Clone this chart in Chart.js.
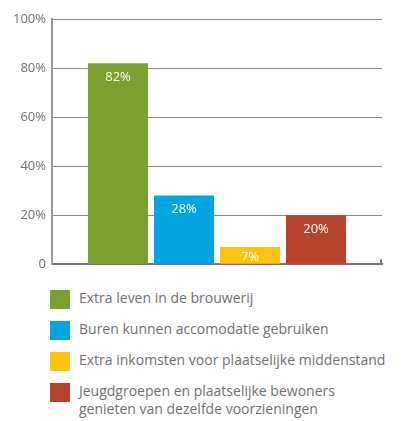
<!DOCTYPE html>
<html>
<head>
<meta charset="utf-8">
<script src="https://cdn.jsdelivr.net/npm/chart.js@4/dist/chart.umd.min.js"></script>
<style>
  html, body { margin: 0; padding: 0; background: #fff; }
  #wrap { position: relative; width: 420px; height: 421px; overflow: hidden; }
  #cv { position: absolute; left: 0; top: 0; }
  #legend { position: absolute; left: 50px; top: 289px; font-family: "Open Sans", sans-serif; font-size: 14px; color: #707070; }
  .item { position: relative; height: 31px; }
  .box { position: absolute; left: 0; top: 1px; width: 20px; height: 19px; }
  .txt { position: absolute; left: 29px; top: 0; white-space: nowrap; line-height: 18px; }
</style>
</head>
<body>
<div id="wrap">
  <canvas id="cv" width="420" height="278"></canvas>
  <div id="legend"></div>
</div>
<script>
const categories = [""];
const seriesLabels = [
  "Extra leven in de brouwerij",
  "Buren kunnen accomodatie gebruiken",
  "Extra inkomsten voor plaatselijke middenstand",
  ["Jeugdgroepen en plaatselijke bewoners", "genieten van dezelfde voorzieningen"]
];
const seriesValues = [82, 28, 7, 20];
const seriesColors = ["#7aa02f", "#00a6e2", "#ffc20e", "#b7432c"];
const tickLabels = { 0: "0", 20: "20%", 40: "40%", 60: "60%", 80: "80%", 100: "100%" };

const datasets = seriesValues.map((v, i) => ({
  label: Array.isArray(seriesLabels[i]) ? seriesLabels[i].join(" ") : seriesLabels[i],
  data: [v],
  backgroundColor: seriesColors[i],
  borderWidth: 0,
  categoryPercentage: 0.8,
  barPercentage: 0.909
}));

const valueLabels = {
  id: "valueLabels",
  afterDatasetsDraw(chart) {
    const ctx = chart.ctx;
    ctx.save();
    ctx.font = '13px "Open Sans", sans-serif';
    ctx.fillStyle = "#ffffff";
    ctx.textAlign = "center";
    ctx.textBaseline = "middle";
    chart.data.datasets.forEach((ds, i) => {
      const el = chart.getDatasetMeta(i).data[0];
      const off = ds.data[0] < 10 ? 10 : 14;
      ctx.fillText(ds.data[0] + "%", el.x, el.y + off);
    });
    ctx.restore();
  }
};

const endTick = {
  id: "endTick",
  afterDraw(chart) {
    const a = chart.chartArea;
    const ctx = chart.ctx;
    ctx.save();
    ctx.strokeStyle = "#777";
    ctx.lineWidth = 2;
    ctx.beginPath();
    ctx.moveTo(a.right - 1, a.bottom - 5);
    ctx.lineTo(a.right - 1, a.bottom);
    ctx.stroke();
    ctx.restore();
  }
};

new Chart(document.getElementById("cv"), {
  type: "bar",
  data: { labels: categories, datasets },
  options: {
    responsive: false,
    animation: false,
    layout: { padding: { top: 19, right: 38, bottom: 0, left: 0 } },
    plugins: { legend: { display: false }, tooltip: { enabled: false } },
    scales: {
      x: {
        grid: { display: false },
        ticks: { display: false },
        border: { color: "#777", width: 2 }
      },
      y: {
        min: 0, max: 100,
        afterFit(s) { s.width = 52; },
        ticks: {
          stepSize: 20,
          padding: 6,
          color: "#707070",
          font: { family: "Open Sans", size: 13 },
          callback: v => tickLabels[v]
        },
        grid: { color: "#888", lineWidth: 1, drawTicks: false },
        border: { color: "#999", width: 2 }
      }
    }
  },
  plugins: [valueLabels, endTick]
});

const lg = document.getElementById("legend");
seriesLabels.forEach((lab, i) => {
  const it = document.createElement("div");
  it.className = "item";
  const b = document.createElement("div");
  b.className = "box";
  b.style.background = seriesColors[i];
  const t = document.createElement("div");
  t.className = "txt";
  (Array.isArray(lab) ? lab : [lab]).forEach((line, k) => {
    if (k) t.appendChild(document.createElement("br"));
    t.appendChild(document.createTextNode(line));
  });
  it.appendChild(b); it.appendChild(t);
  lg.appendChild(it);
});
</script>
</body>
</html>
